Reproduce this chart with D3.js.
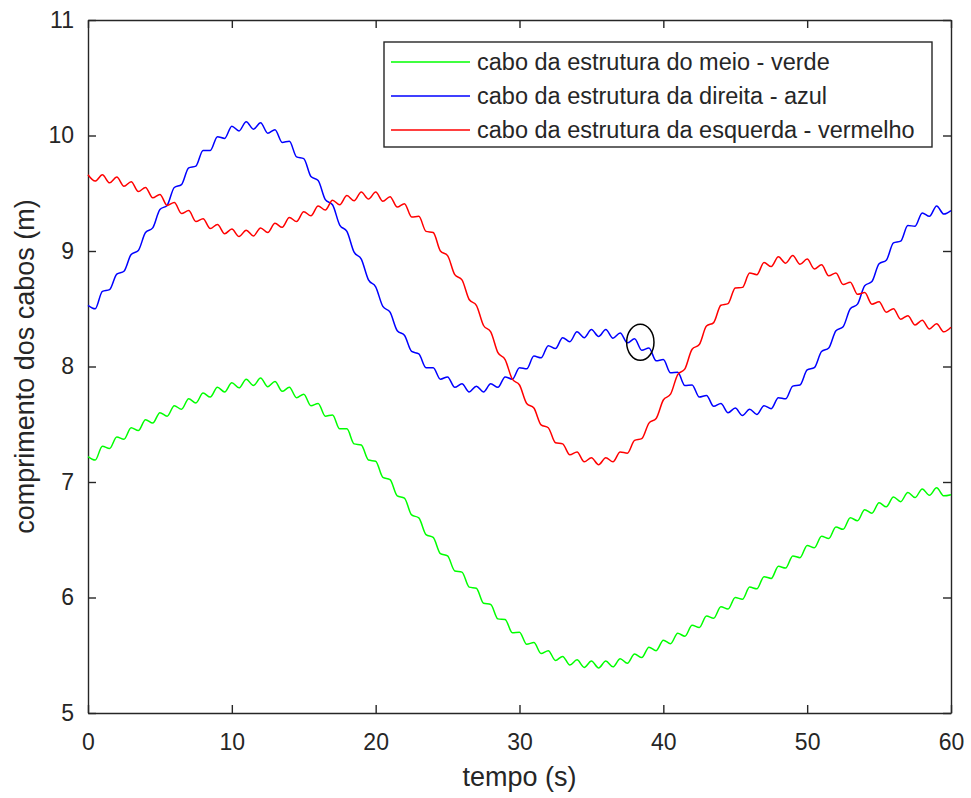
<!DOCTYPE html>
<html lang="pt">
<head>
  <meta charset="UTF-8" />
  <title>Comprimento dos cabos</title>

  <script src="https://d3js.org/d3.v7.min.js"></script>

  <style>
    body {
      margin: 0;
      background: #fff;
    }
    svg {
      display: block;
      font-family: "Liberation Sans", Arial, sans-serif;
    }
    .axis path, .axis line {
      stroke: #262626;
      stroke-width: 1.4;
    }
    .axis text {
      fill: #262626;
      font-size: 23px;
    }
    .axis-label {
      fill: #262626;
      font-size: 27px;
    }
    .legend text {
      fill: #262626;
      font-size: 23.5px;
    }
  </style>
</head>

<body>
  <svg id="chart"></svg>

  <script>
    // amostras a cada 0.5 s, de 0 a 60 s
    const passo = 0.5;

    const verde = [
      7.22, 7.19, 7.31, 7.29, 7.39, 7.37, 7.47, 7.445, 7.54, 7.51,
      7.60, 7.57, 7.66, 7.63, 7.72, 7.685, 7.77, 7.735, 7.82, 7.78,
      7.86, 7.815, 7.89, 7.835, 7.90, 7.825, 7.87, 7.785, 7.82, 7.73,
      7.76, 7.66, 7.68, 7.57, 7.58, 7.46, 7.46, 7.33, 7.32, 7.19,
      7.18, 7.04, 7.02, 6.88, 6.86, 6.715, 6.69, 6.545, 6.52, 6.38,
      6.36, 6.23, 6.22, 6.09, 6.08, 5.95, 5.94, 5.815, 5.81, 5.695,
      5.70, 5.595, 5.61, 5.515, 5.54, 5.455, 5.49, 5.415, 5.46, 5.395,
      5.45, 5.39, 5.45, 5.40, 5.47, 5.43, 5.51, 5.48, 5.57, 5.54,
      5.63, 5.60, 5.69, 5.665, 5.76, 5.74, 5.84, 5.82, 5.92, 5.90,
      6.00, 5.985, 6.09, 6.075, 6.18, 6.165, 6.27, 6.255, 6.36, 6.345,
      6.45, 6.43, 6.53, 6.51, 6.61, 6.59, 6.69, 6.665, 6.76, 6.73,
      6.82, 6.785, 6.87, 6.83, 6.91, 6.865, 6.94, 6.885, 6.95, 6.88,
      6.89
    ];

    const azul = [
      8.53, 8.50, 8.65, 8.665, 8.80, 8.825, 8.97, 9.005, 9.16, 9.20,
      9.36, 9.395, 9.55, 9.575, 9.72, 9.735, 9.87, 9.87, 9.99, 9.975,
      10.08, 10.04, 10.12, 10.055, 10.11, 10.02, 10.05, 9.94, 9.95, 9.815,
      9.80, 9.645, 9.61, 9.445, 9.40, 9.225, 9.17, 8.99, 8.93, 8.75,
      8.69, 8.52, 8.47, 8.31, 8.27, 8.13, 8.11, 7.99, 7.99, 7.89,
      7.91, 7.82, 7.85, 7.78, 7.83, 7.78, 7.85, 7.82, 7.91, 7.89,
      7.99, 7.98, 8.09, 8.075, 8.18, 8.155, 8.25, 8.215, 8.30, 8.25,
      8.32, 8.26, 8.32, 8.245, 8.29, 8.205, 8.24, 8.14, 8.16, 8.05,
      8.06, 7.945, 7.95, 7.835, 7.84, 7.735, 7.75, 7.655, 7.68, 7.60,
      7.64, 7.575, 7.63, 7.585, 7.66, 7.635, 7.73, 7.72, 7.83, 7.84,
      7.97, 7.99, 8.13, 8.16, 8.31, 8.345, 8.50, 8.54, 8.70, 8.735,
      8.89, 8.92, 9.07, 9.085, 9.22, 9.215, 9.33, 9.30, 9.39, 9.32,
      9.35
    ];

    const vermelho = [
      9.66, 9.605, 9.66, 9.59, 9.64, 9.56, 9.60, 9.515, 9.55, 9.46,
      9.49, 9.395, 9.42, 9.325, 9.35, 9.255, 9.28, 9.195, 9.23, 9.15,
      9.19, 9.125, 9.18, 9.13, 9.20, 9.16, 9.24, 9.205, 9.29, 9.255,
      9.34, 9.305, 9.39, 9.355, 9.44, 9.40, 9.48, 9.435, 9.51, 9.45,
      9.51, 9.43, 9.47, 9.38, 9.41, 9.295, 9.30, 9.17, 9.16, 9.00,
      8.96, 8.795, 8.75, 8.58, 8.53, 8.355, 8.30, 8.12, 8.06, 7.89,
      7.84, 7.68, 7.64, 7.495, 7.47, 7.34, 7.33, 7.235, 7.26, 7.175,
      7.21, 7.15, 7.21, 7.175, 7.26, 7.25, 7.36, 7.375, 7.51, 7.55,
      7.71, 7.76, 7.93, 7.98, 8.15, 8.19, 8.35, 8.38, 8.53, 8.545,
      8.68, 8.685, 8.81, 8.795, 8.90, 8.865, 8.95, 8.895, 8.96, 8.885,
      8.93, 8.845, 8.88, 8.785, 8.81, 8.71, 8.73, 8.625, 8.64, 8.54,
      8.56, 8.47, 8.50, 8.41, 8.44, 8.36, 8.40, 8.325, 8.37, 8.30,
      8.34
    ];

    const xTicks = [0, 10, 20, 30, 40, 50, 60];
    const yTicks = [5, 6, 7, 8, 9, 10, 11];

    const legendas = [
      "cabo da estrutura do meio - verde",
      "cabo da estrutura da direita - azul",
      "cabo da estrutura da esquerda - vermelho"
    ];
    const cores = ["#00ff00", "#0000ff", "#ff0000"];

    // marcação (elipse) em unidades dos dados
    const elipseCentro = [38.4, 8.21];
    const elipseRaio   = [0.95, 0.156];

    const margin = { top: 20, right: 20, bottom: 85, left: 88 };
    const W = 971, H = 798;
    const width  = W - margin.left - margin.right;
    const height = H - margin.top  - margin.bottom;

    const svgRoot = d3.select("#chart")
      .attr("width", W)
      .attr("height", H);

    const svg = svgRoot.append("g")
      .attr("transform", `translate(${margin.left},${margin.top})`);

    const x = d3.scaleLinear().domain([0, 60]).range([0, width]);
    const y = d3.scaleLinear().domain([5, 11]).range([height, 0]);

    const fmt = d3.format("d");

    // eixos (caixa completa, ticks para dentro)
    svg.append("g")
      .attr("class", "axis")
      .attr("transform", `translate(0,${height})`)
      .call(d3.axisBottom(x).tickValues(xTicks).tickFormat(fmt)
              .tickSizeInner(-8).tickSizeOuter(0).tickPadding(21));

    svg.append("g")
      .attr("class", "axis")
      .call(d3.axisLeft(y).tickValues(yTicks).tickFormat(fmt)
              .tickSizeInner(-8).tickSizeOuter(0).tickPadding(14));

    svg.append("g")
      .attr("class", "axis")
      .call(d3.axisTop(x).tickValues(xTicks).tickSizeInner(-8).tickSizeOuter(0).tickFormat(""));

    svg.append("g")
      .attr("class", "axis")
      .attr("transform", `translate(${width},0)`)
      .call(d3.axisRight(y).tickValues(yTicks).tickSizeInner(-8).tickSizeOuter(0).tickFormat(""));

    svg.selectAll(".axis .domain").attr("fill", "none");

    // séries
    const linha = d3.line()
      .x((d, i) => x(i * passo))
      .y(d => y(d))
      .curve(d3.curveMonotoneX);

    const series = [verde, azul, vermelho];
    series.forEach((s, k) => {
      svg.append("path")
        .datum(s)
        .attr("fill", "none")
        .attr("stroke", cores[k])
        .attr("stroke-width", 1.5)
        .attr("stroke-linejoin", "round")
        .attr("d", linha);
    });

    // elipse
    svg.append("ellipse")
      .attr("cx", x(elipseCentro[0]))
      .attr("cy", y(elipseCentro[1]))
      .attr("rx", x(elipseRaio[0]) - x(0))
      .attr("ry", y(5) - y(5 + elipseRaio[1]))
      .attr("fill", "none")
      .attr("stroke", "#000")
      .attr("stroke-width", 1.5);

    // rótulos dos eixos
    svg.append("text")
      .attr("class", "axis-label")
      .attr("x", width / 2)
      .attr("y", height + 73)
      .attr("text-anchor", "middle")
      .text("tempo (s)");

    svg.append("text")
      .attr("class", "axis-label")
      .attr("transform", `translate(-54,${height / 2}) rotate(-90)`)
      .attr("text-anchor", "middle")
      .text("comprimento dos cabos (m)");

    // legenda
    const leg = svg.append("g")
      .attr("class", "legend")
      .attr("transform", `translate(${384 - margin.left},${42 - margin.top})`);

    leg.append("rect")
      .attr("width", 548)
      .attr("height", 105)
      .attr("fill", "#fff")
      .attr("stroke", "#262626")
      .attr("stroke-width", 1.4);

    legendas.forEach((txt, k) => {
      const ly = 20 + k * 34;
      leg.append("line")
        .attr("x1", 7).attr("x2", 86)
        .attr("y1", ly).attr("y2", ly)
        .attr("stroke", cores[k])
        .attr("stroke-width", 1.5);
      leg.append("text")
        .attr("x", 93)
        .attr("y", ly)
        .attr("dy", "0.35em")
        .text(txt);
    });
  </script>
</body>
</html>
